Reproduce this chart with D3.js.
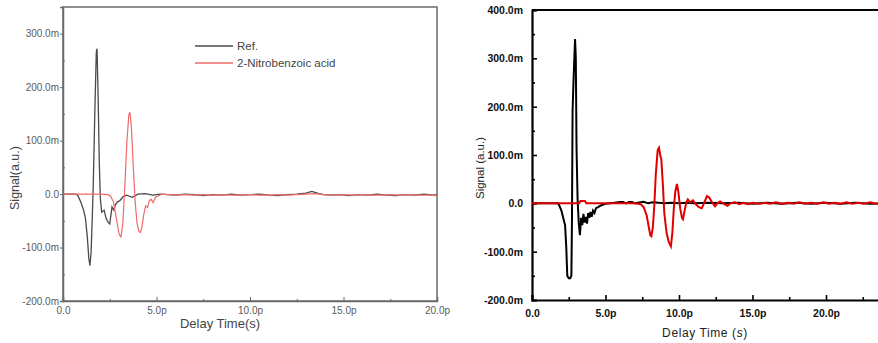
<!DOCTYPE html>
<html><head><meta charset="utf-8">
<script src="https://cdn.jsdelivr.net/npm/d3@7"></script>
<style>
html,body{margin:0;padding:0;background:#fff;}
svg{display:block;}
</style></head>
<body>
<svg id="c" width="878" height="343"></svg>
<script>
// ---- data (time in ps, signal in m a.u.) ----
const seriesNames = ["Ref.", "2-Nitrobenzoic acid"];
const leftXTicks = [0, 5, 10, 15, 20];
const leftXTickLabels = ["0.0", "5.0p", "10.0p", "15.0p", "20.0p"];
const leftYTicks = [-200, -100, 0, 100, 200, 300];
const leftYTickLabels = ["-200.0m", "-100.0m", "0.0", "100.0m", "200.0m", "300.0m"];
const rightXTicks = [0, 5, 10, 15, 20];
const rightXTickLabels = ["0.0", "5.0p", "10.0p", "15.0p", "20.0p"];
const rightYTicks = [-200, -100, 0, 100, 200, 300, 400];
const rightYTickLabels = ["-200.0m", "-100.0m", "0.0", "100.0m", "200.0m", "300.0m", "400.0m"];

const leftRef = [[0,0],[0.5,0],[0.7,0],[0.8,-3],[0.95,-15],[1.1,-30],[1.2,-45],[1.3,-80],[1.38,-120],[1.44,-134],[1.5,-110],[1.56,-50],[1.62,20],[1.7,150],[1.78,265],[1.82,272],[1.88,180],[1.94,60],[2.0,-10],[2.07,-34],[2.2,-30],[2.3,-45],[2.4,-52],[2.5,-56],[2.62,-24],[2.72,-30],[2.8,-20],[2.9,-15],[3.05,-12],[3.2,-5],[3.4,-2],[3.7,-6],[4.0,0],[4.4,1],[4.8,-2],[5.2,0],[5.6,-1],[6.0,-2],[6.5,0],[7.0,-1],[7.5,-3],[8.0,-1],[8.5,-2],[9.0,0],[9.5,-2],[10.0,-1],[10.5,0],[11.0,-2],[11.5,-3],[12.0,-1],[12.5,0],[13.0,2],[13.3,5],[13.6,2],[13.9,-1],[14.3,-2],[14.8,-1],[15.3,-3],[15.8,-1],[16.3,-2],[16.8,0],[17.3,-2],[17.8,-3],[18.3,-1],[18.8,-2],[19.3,0],[19.8,-2],[20,-1]];
const leftAcid = [[0,0],[1,0],[2,0],[2.4,-1],[2.55,-4],[2.7,-15],[2.85,-45],[3.0,-75],[3.1,-80],[3.2,-55],[3.3,10],[3.42,100],[3.52,148],[3.58,153],[3.66,125],[3.76,50],[3.86,-15],[3.96,-55],[4.06,-70],[4.14,-72],[4.22,-62],[4.32,-38],[4.42,-22],[4.52,-25],[4.62,-12],[4.72,-10],[4.82,-16],[4.95,-6],[5.1,-3],[5.3,0],[5.7,-1],[6.1,-2],[6.5,-1],[7,-2],[7.5,-1],[8,-2],[8.5,-1],[9,-2],[9.5,-2],[10,-1],[10.5,-2],[11,-2],[11.5,-1],[12,-2],[12.5,-1],[13,0],[13.5,1],[14,-1],[14.5,-2],[15,-1],[15.5,-2],[16,-1],[16.5,-2],[17,-2],[17.5,-1],[18,-2],[18.5,-1],[19,-2],[19.5,-2],[20,-3]];

const rightRef = [[0,0],[1,0],[1.75,0],[1.85,-4],[2.0,-15],[2.12,-30],[2.25,-45],[2.33,-90],[2.4,-150],[2.5,-155],[2.6,-155],[2.68,-150],[2.72,-30],[2.76,190],[2.82,250],[2.88,300],[2.93,340],[2.98,300],[3.03,113],[3.1,10],[3.18,-40],[3.26,-66],[3.34,-30],[3.42,-45],[3.5,-22],[3.58,-40],[3.66,-28],[3.74,-42],[3.82,-20],[3.9,-30],[3.98,-18],[4.06,-28],[4.15,-15],[4.25,-20],[4.35,-10],[4.5,-8],[4.65,-5],[4.8,-3],[5.0,-1],[5.3,0],[5.6,1],[6.0,3],[6.2,3],[6.4,0],[6.6,3],[6.8,3],[7.0,0],[7.3,2],[7.6,3],[7.9,0],[8.2,2],[8.6,1],[9.0,0],[9.5,1],[10,0],[10.5,1],[11,0],[12,1],[13,0],[14,1],[15,-1],[16,1],[17,-1],[18,1],[19,-1],[20,1],[21,-1],[22,1],[23,-1],[24,0]];
const rightAcid = [[0,0],[3.2,0],[3.3,5],[3.6,5],[3.7,0],[5,0],[7,0],[7.4,-2],[7.6,-8],[7.8,-25],[7.95,-50],[8.05,-66],[8.12,-68],[8.22,-50],[8.32,-5],[8.42,60],[8.55,110],[8.64,115],[8.72,100],[8.8,90],[8.9,40],[9.0,-20],[9.15,-60],[9.3,-80],[9.45,-89],[9.55,-60],[9.65,-10],[9.75,25],[9.86,40],[9.95,25],[10.08,-10],[10.2,-30],[10.27,-33],[10.38,-15],[10.5,2],[10.6,8],[10.75,2],[10.95,6],[11.15,-2],[11.35,-8],[11.55,-10],[11.7,0],[11.9,15],[12.05,12],[12.25,2],[12.45,-6],[12.6,0],[12.8,4],[13.0,0],[13.3,-5],[13.5,0],[13.8,2],[14.1,-2],[14.4,1],[14.7,-2],[15,1],[15.4,-1],[15.8,1],[16.2,-1],[16.6,2],[17,-1],[17.4,1],[17.8,-1],[18.2,2],[18.6,-1],[19,1],[19.4,-1],[19.8,2],[20.2,-1],[20.6,1],[21,-1],[21.4,2],[21.8,-1],[22.2,1],[22.6,-1],[23,2],[23.4,-1],[23.8,1],[24,0]];

const svg = d3.select("#c");
const FONT = "'Liberation Sans', Arial, sans-serif";

// ================= LEFT PANEL =================
(function(){
  const x = d3.scaleLinear().domain([0, 20]).range([63, 437]);
  const y = d3.scaleLinear().domain([-200, 350]).range([301, 7]);
  const g = svg.append("g");
  const axisCol = "#6a6a6a", txtCol = "#5a5a5a";

  g.append("rect").attr("x", x(0)).attr("y", y(350)).attr("width", x(20)-x(0)).attr("height", y(-200)-y(350))
    .attr("fill", "none").attr("stroke", axisCol).attr("stroke-width", 1.5);

  g.append("clipPath").attr("id", "clipL").append("rect")
    .attr("x", x(0)).attr("y", y(350)).attr("width", x(20)-x(0)).attr("height", y(-200)-y(350));

  g.append("g").attr("transform", `translate(0,${y(-200)})`)
    .call(d3.axisBottom(x).tickValues(leftXTicks).tickSize(-4).tickFormat((d,i)=>leftXTickLabels[i]).tickPadding(6));
  g.append("g").attr("transform", `translate(0,${y(-200)})`)
    .call(d3.axisBottom(x).tickValues([2.5,7.5,12.5,17.5]).tickSize(-2).tickFormat(""))
    .call(a=>a.select(".domain").remove());
  g.append("g").attr("transform", `translate(${x(0)},0)`)
    .call(d3.axisLeft(y).tickValues(leftYTicks).tickSize(3).tickFormat((d,i)=>leftYTickLabels[i]).tickPadding(1));
  g.append("g").attr("transform", `translate(${x(0)},0)`)
    .call(d3.axisLeft(y).tickValues([-150,-50,50,150,250]).tickSize(-2).tickFormat(""))
    .call(a=>a.select(".domain").remove());
  g.selectAll(".domain").attr("stroke", axisCol).attr("stroke-width", 1.5);
  g.selectAll(".tick line").attr("stroke", axisCol);
  g.selectAll(".tick text").attr("fill", txtCol).style("font-family", FONT).style("font-size", "10px");

  const line = d3.line().x(d=>x(d[0])).y(d=>y(d[1]));
  const lg = g.append("g").attr("clip-path", "url(#clipL)");
  lg.append("path").datum(leftRef).attr("d", line).attr("fill","none").attr("stroke","#4a4a4a").attr("stroke-width",1.3);
  lg.append("path").datum(leftAcid).attr("d", line).attr("fill","none").attr("stroke","#f06a6a").attr("stroke-width",1.2);

  const cols = ["#4a4a4a", "#f06a6a"];
  seriesNames.forEach((n,i)=>{
    const yy = 46 + i*17;
    g.append("line").attr("x1",195).attr("x2",233).attr("y1",yy).attr("y2",yy).attr("stroke",cols[i]).attr("stroke-width",1.5);
    g.append("text").attr("x",237).attr("y",yy+4).text(n).attr("fill","#444")
      .style("font-family",FONT).style("font-size","11.5px");
  });

  g.append("text").attr("x", 220).attr("y", 328).attr("text-anchor","middle").text("Delay Time(s)")
    .attr("fill","#444").style("font-family",FONT).style("font-size","13px");
  g.append("text").attr("transform","translate(19,178) rotate(-90)").attr("text-anchor","middle").text("Signal(a.u.)")
    .attr("fill","#444").style("font-family",FONT).style("font-size","12.5px");
})();

// ================= RIGHT PANEL =================
(function(){
  const x = d3.scaleLinear().domain([0, 24]).range([532, 532 + 24*14.7]);
  const y = d3.scaleLinear().domain([-200, 400]).range([300, 10]);
  const g = svg.append("g");

  g.append("clipPath").attr("id","clipR").append("rect")
    .attr("x", x(0)).attr("y", y(400)).attr("width", 400).attr("height", y(-200)-y(400));

  g.append("line").attr("x1", x(0)).attr("x2", 878).attr("y1", y(400)).attr("y2", y(400)).attr("stroke","#000").attr("stroke-width",2);

  g.append("g").attr("transform", `translate(0,${y(-200)})`)
    .call(d3.axisBottom(x).tickValues(rightXTicks).tickSize(-5).tickFormat((d,i)=>rightXTickLabels[i]).tickPadding(10));
  g.append("g").attr("transform", `translate(0,${y(-200)})`)
    .call(d3.axisBottom(x).tickValues([2.5,7.5,12.5,17.5,22.5]).tickSize(-3).tickFormat(""))
    .call(a=>a.select(".domain").remove());
  g.append("g").attr("transform", `translate(${x(0)},0)`)
    .call(d3.axisLeft(y).tickValues(rightYTicks).tickSize(-5).tickFormat((d,i)=>rightYTickLabels[i]).tickPadding(9));
  g.append("g").attr("transform", `translate(${x(0)},0)`)
    .call(d3.axisLeft(y).tickValues([-150,-50,50,150,250,350]).tickSize(-3).tickFormat(""))
    .call(a=>a.select(".domain").remove());
  g.selectAll(".domain").attr("stroke","#000").attr("stroke-width",2.2);
  g.selectAll(".tick line").attr("stroke","#000").attr("stroke-width",1.6);
  g.selectAll(".tick text").attr("fill","#111").style("font-family",FONT).style("font-size","10.5px").style("font-weight","bold");

  const line = d3.line().x(d=>x(d[0])).y(d=>y(d[1]));
  const lg = g.append("g").attr("clip-path","url(#clipR)");
  lg.append("path").datum(rightRef).attr("d", line).attr("fill","none").attr("stroke","#000").attr("stroke-width",2);
  lg.append("path").datum(rightAcid).attr("d", line).attr("fill","none").attr("stroke","#e00000").attr("stroke-width",2);

  g.append("text").attr("x", 705).attr("y", 337).attr("text-anchor","middle")
    .attr("fill","#222").style("font-family",FONT).style("font-size","12px").style("letter-spacing","0.6px")
    .call(t=>{ t.append("tspan").text("Delay Time ("); t.append("tspan").style("font-style","italic").text("s"); t.append("tspan").text(")"); });
  g.append("text").attr("transform","translate(484,168) rotate(-90)").attr("text-anchor","middle").text("Signal (a.u.)")
    .attr("fill","#222").style("font-family",FONT).style("font-size","11.5px");
})();
</script>
</body></html>
